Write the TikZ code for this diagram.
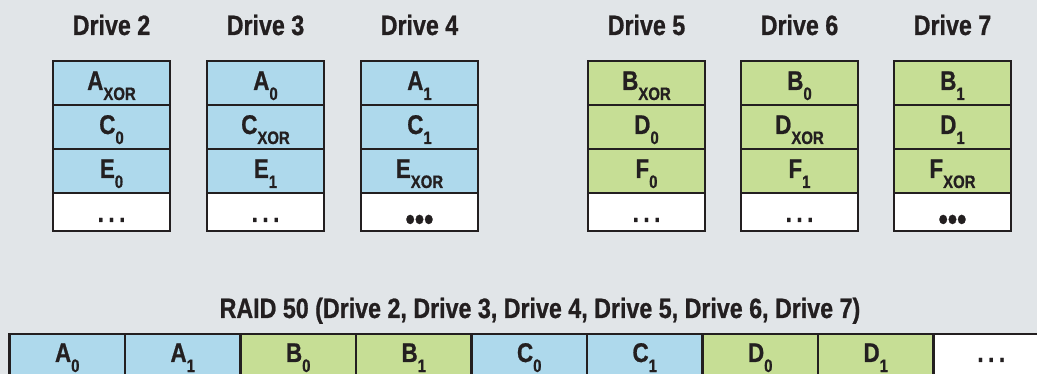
\documentclass[tikz,border=0pt]{standalone}
\usepackage{fontspec}
\setmainfont{Liberation Sans Bold}[FakeStretch=0.83,FakeBold=0.8]
\usetikzlibrary{positioning}
\definecolor{bgray}{HTML}{E1E5E8}
\definecolor{cblue}{HTML}{AED9EC}
\definecolor{cgreen}{HTML}{C6DE95}
\definecolor{ink}{HTML}{231F20}
\newcommand{\idx}[1]{\raisebox{-10pt}{\fontsize{18}{18}\selectfont #1}}
\newcommand{\etc}{.\,.\,.}
\newcommand{\bigdots}{\raisebox{-8pt}{\fontsize{32}{32}\selectfont •••}}

\begin{document}
\begin{tikzpicture}[x=1pt,y=-1pt,
    cell/.style={draw=ink,line width=2.6pt},
    lbl/.style={anchor=base,text=ink,inner sep=0pt,font=\fontsize{27}{27}\selectfont},
    ttl/.style={anchor=base,text=ink,inner sep=0pt,font=\fontsize{28}{28}\selectfont}]
    % sfondo
    \clip (0,0) rectangle (1037,374);
    \fill[bgray] (0,0) rectangle (1037,374);

    % dischi
    \foreach \n/\x/\col/\ra/\rb/\rc/\rd in {
        2/53/cblue/{A\idx{XOR}}/{C\idx{0}}/{E\idx{0}}/{\etc},
        3/207/cblue/{A\idx{0}}/{C\idx{XOR}}/{E\idx{1}}/{\etc},
        4/361/cblue/{A\idx{1}}/{C\idx{1}}/{E\idx{XOR}}/{\bigdots},
        5/588/cgreen/{B\idx{XOR}}/{D\idx{0}}/{F\idx{0}}/{\etc},
        6/741/cgreen/{B\idx{0}}/{D\idx{XOR}}/{F\idx{1}}/{\etc},
        7/894/cgreen/{B\idx{1}}/{D\idx{1}}/{F\idx{XOR}}/{\bigdots}}
    {
        \fill[\col] (\x,61) rectangle ++(117,132);
        \fill[white] (\x,193) rectangle ++(117,38);
        \foreach \y in {105,149,193}
            \draw[cell] (\x,\y) -- ++(117,0);
        \draw[cell] (\x,61) rectangle ++(117,170);
        \node[ttl] (d\n) at (\x+58.5,35) {Drive \n};
        \node[lbl] (d\n-a) at (\x+58.5,90) {\ra};
        \node[lbl] (d\n-b) at (\x+58.5,134) {\rb};
        \node[lbl] (d\n-c) at (\x+58.5,178) {\rc};
        \node[lbl] (d\n-d) at (\x+58.5,222) {\rd};
    }

    % titolo
    \node[ttl] (raid) at (540,318) {RAID 50 (Drive 2, Drive 3, Drive 4, Drive 5, Drive 6, Drive 7)};

    % striscia
    \foreach \i/\col/\t in {0/cblue/{A\idx{0}}, 1/cblue/{A\idx{1}}, 2/cgreen/{B\idx{0}},
        3/cgreen/{B\idx{1}}, 4/cblue/{C\idx{0}}, 5/cblue/{C\idx{1}}, 6/cgreen/{D\idx{0}},
        7/cgreen/{D\idx{1}}, 8/white/{\etc}}
    {
        \fill[\col] (9.5+115.5*\i,334) rectangle ++(115.5,50);
        \draw[cell] (9.5+115.5*\i,334) rectangle ++(115.5,50);
        \node[lbl] (s\i) at (67.25+115.5*\i,362) {\t};
    }
\end{tikzpicture}
\end{document}
